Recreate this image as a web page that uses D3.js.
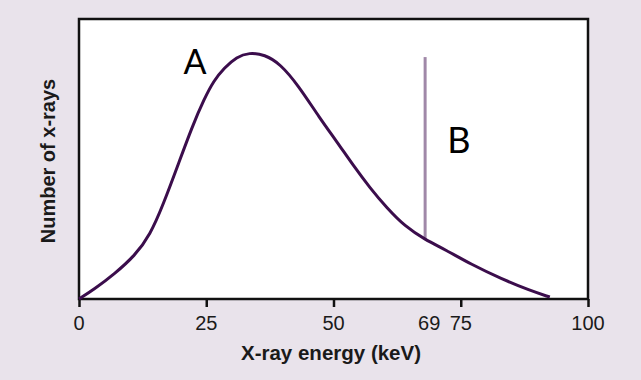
<!DOCTYPE html>
<html>
<head>
<meta charset="utf-8">
<script src="https://cdn.jsdelivr.net/npm/d3@7"></script>
<style>
    html, body { margin: 0; padding: 0; background: #e9e3eb; }
    svg { display: block; }
</style>
</head>
<body>
<svg id="chart" width="641" height="380"></svg>
<script>
// spectrum (energy keV, relative count)
var energy = [0, 3, 7, 11, 14, 16.5, 19.6, 22.2, 24.6, 26.5, 28.5, 31, 33.4, 36.5,
    39.5, 43, 47.3, 50.7, 53.8, 57.2, 60.5, 64, 68, 72, 77, 83, 88.6, 92.5];
var counts = [0, 3.5, 9, 15.5, 23, 33.5, 48.6, 61.4, 71.5, 78, 82.5, 86.5, 88, 87.3,
    84, 76.5, 64.6, 56.1, 47.9, 39.6, 32.5, 26, 21.2, 17.6, 12.4, 7.2, 3.0, 0.7];
// characteristic line B
var lineEnergy = 68;
var lineTop = 86.4;
var lineBottom = 21.2;
var tickValues = [0, 25, 50, 75, 100];
var labelValues = [0, 25, 50, 68.8, 75, 100];
var labelTexts = ['0', '25', '50', '69', '75', '100'];

var svg = d3.select('#chart');
var plotLeft = 79, plotRight = 588, plotTop = 19, plotBottom = 299;
var font = '"Liberation Sans", Arial, sans-serif';

var xScale = d3.scaleLinear().domain([0, 100]).range([plotLeft, plotRight]);
var yScale = d3.scaleLinear().domain([0, 100]).range([plotBottom, plotTop]);

// plot area
svg.append('rect')
    .attr('x', plotLeft)
    .attr('y', plotTop)
    .attr('width', plotRight - plotLeft)
    .attr('height', plotBottom - plotTop)
    .attr('fill', '#ffffff')
    .attr('stroke', '#111')
    .attr('stroke-width', 2.5);

// ticks (69 gets a label but no tick mark)
var xAxis = d3.axisBottom(xScale).tickValues(tickValues).tickSize(8).tickFormat('');
svg.append('g')
    .attr('transform', 'translate(0,' + plotBottom + ')')
    .call(xAxis)
    .call(function (g) {
        g.select('.domain').remove();
        g.selectAll('.tick line').attr('stroke', '#111').attr('stroke-width', 2.5);
    });

svg.append('g')
    .selectAll('text')
    .data(labelValues)
    .enter()
    .append('text')
    .attr('x', function (d) { return xScale(d); })
    .attr('y', 330)
    .attr('text-anchor', 'middle')
    .attr('font-family', font)
    .attr('font-size', 20)
    .attr('fill', '#1a1a1a')
    .text(function (d, i) { return labelTexts[i]; });

svg.append('text')
    .attr('x', 331)
    .attr('y', 360)
    .attr('text-anchor', 'middle')
    .attr('font-family', font)
    .attr('font-weight', 'bold')
    .attr('font-size', 20.5)
    .attr('fill', '#1a1a1a')
    .text('X-ray energy (keV)');

svg.append('text')
    .attr('transform', 'translate(55,161) rotate(-90)')
    .attr('text-anchor', 'middle')
    .attr('font-family', font)
    .attr('font-weight', 'bold')
    .attr('font-size', 20)
    .attr('fill', '#1a1a1a')
    .text('Number of x-rays');

// characteristic line
svg.append('line')
    .attr('x1', xScale(lineEnergy))
    .attr('x2', xScale(lineEnergy))
    .attr('y1', yScale(lineTop))
    .attr('y2', yScale(lineBottom))
    .attr('stroke', '#a088a8')
    .attr('stroke-width', 3);

// bremsstrahlung curve
var line = d3.line()
    .x(function (d, i) { return xScale(energy[i]); })
    .y(function (d) { return yScale(d); })
    .curve(d3.curveBasis);
svg.append('path')
    .attr('d', line(counts))
    .attr('fill', 'none')
    .attr('stroke', '#3b0d4c')
    .attr('stroke-width', 3);

svg.append('text')
    .attr('x', 195)
    .attr('y', 74)
    .attr('text-anchor', 'middle')
    .attr('font-family', 'Lato, sans-serif')
    .attr('font-size', 34)
    .attr('fill', '#000')
    .text('A');

svg.append('text')
    .attr('x', 459)
    .attr('y', 153)
    .attr('text-anchor', 'middle')
    .attr('font-family', 'Lato, sans-serif')
    .attr('font-size', 36)
    .attr('fill', '#000')
    .text('B');
</script>
</body>
</html>
